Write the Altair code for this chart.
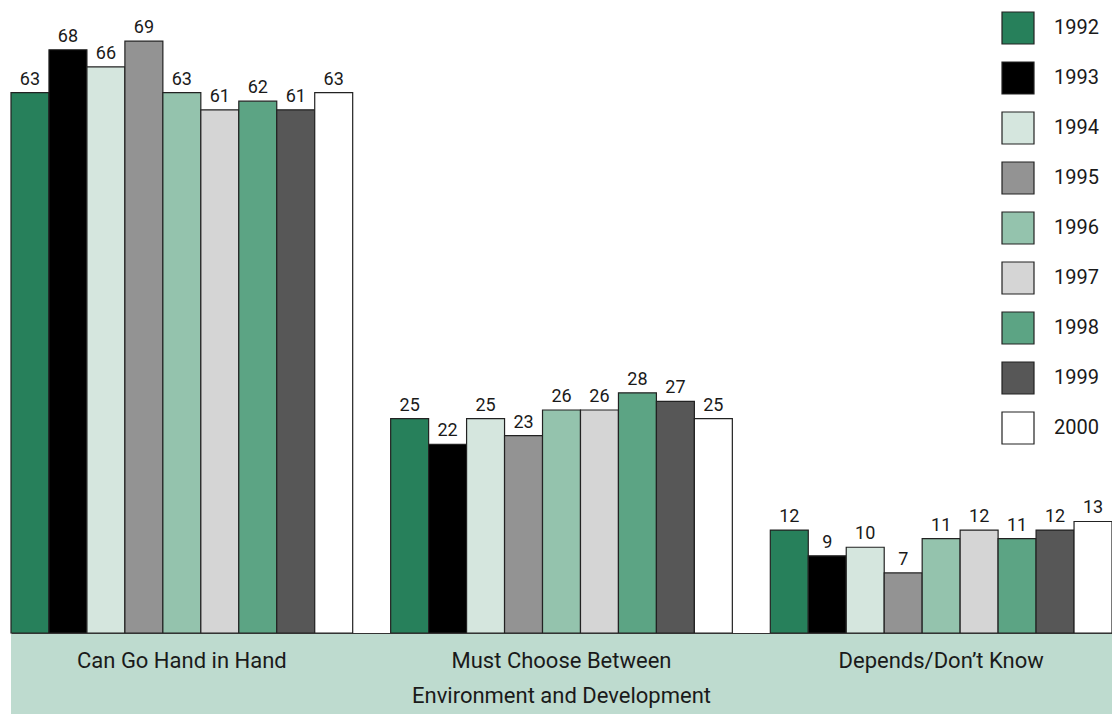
import altair as alt
import pandas as pd

categories = [
    "Can Go Hand in Hand",
    "Must Choose Between\nEnvironment and Development",
    "Depends/Don’t Know",
]
years = ["1992", "1993", "1994", "1995", "1996", "1997", "1998", "1999", "2000"]
hand_in_hand = [63, 68, 66, 69, 63, 61, 62, 61, 63]
must_choose = [25, 22, 25, 23, 26, 26, 28, 27, 25]
depends = [12, 9, 10, 7, 11, 12, 11, 12, 13]
colors = ["#27805b", "#000000", "#d5e6de", "#939393", "#94c3ad",
          "#d5d5d5", "#5ca484", "#575757", "#ffffff"]

rows = []
for cat, vals in zip(categories, [hand_in_hand, must_choose, depends]):
    for yr, v in zip(years, vals):
        rows.append({"category": cat, "year": yr, "value": v})
df = pd.DataFrame(rows)

W, H = 1101, 633

x = alt.X(
    "category:N",
    sort=categories,
    scale=alt.Scale(paddingInner=0.1, paddingOuter=0),
    axis=alt.Axis(
        title=None,
        labelExpr="split(datum.label, '\\n')",
        labelAngle=0,
        labelAlign="center",
        labelBaseline="top",
        labelFontSize=22,
        labelColor="#1a1a1a",
        labelLineHeight=35,
        labelPadding=17,
        labelLimit=0,
        labelOverlap=False,
        ticks=False,
        domain=True,
        domainColor="#333333",
        domainWidth=1,
        zindex=1,
    ),
)
xo = alt.XOffset("year:N", sort=years, scale=alt.Scale(paddingInner=0, paddingOuter=0))
y = alt.Y("value:Q", scale=alt.Scale(domain=[0, 73.8], nice=False, zero=True), axis=None)

band = alt.Chart(pd.DataFrame({"a": [0]})).mark_rect(color="#bedbcf").encode(
    x=alt.value(0), x2=alt.value(W + 5), y=alt.value(H + 1), y2=alt.value(H + 90)
)

bars = alt.Chart(df).mark_bar(stroke="#222222", strokeWidth=1.2).encode(
    x=x,
    xOffset=xo,
    y=y,
    color=alt.Color(
        "year:N",
        sort=years,
        scale=alt.Scale(domain=years, range=colors),
        legend=alt.Legend(
            orient="none",
            legendX=990,
            legendY=11,
            title=None,
            symbolType="square",
            symbolSize=1024,
            symbolStrokeColor="#222222",
            symbolStrokeWidth=1.2,
            symbolOpacity=1,
            labelFontSize=20,
            labelColor="#1a1a1a",
            labelOffset=19,
            rowPadding=12,
            padding=0,
        ),
    ),
)

labels = alt.Chart(df).mark_text(
    baseline="alphabetic", dy=-8, fontSize=18, color="#1a1a1a"
).encode(x=x, xOffset=xo, y=y, text="value:Q")

chart = alt.layer(band, bars, labels).properties(
    width=W,
    height=H,
    autosize=alt.AutoSizeParams(type="none"),
    padding={"left": 11, "top": 0, "right": 0, "bottom": 81},
).configure(font="Roboto").configure_view(stroke=None)

chart.save("out.html", embed_options={"renderer": "svg", "actions": False})
